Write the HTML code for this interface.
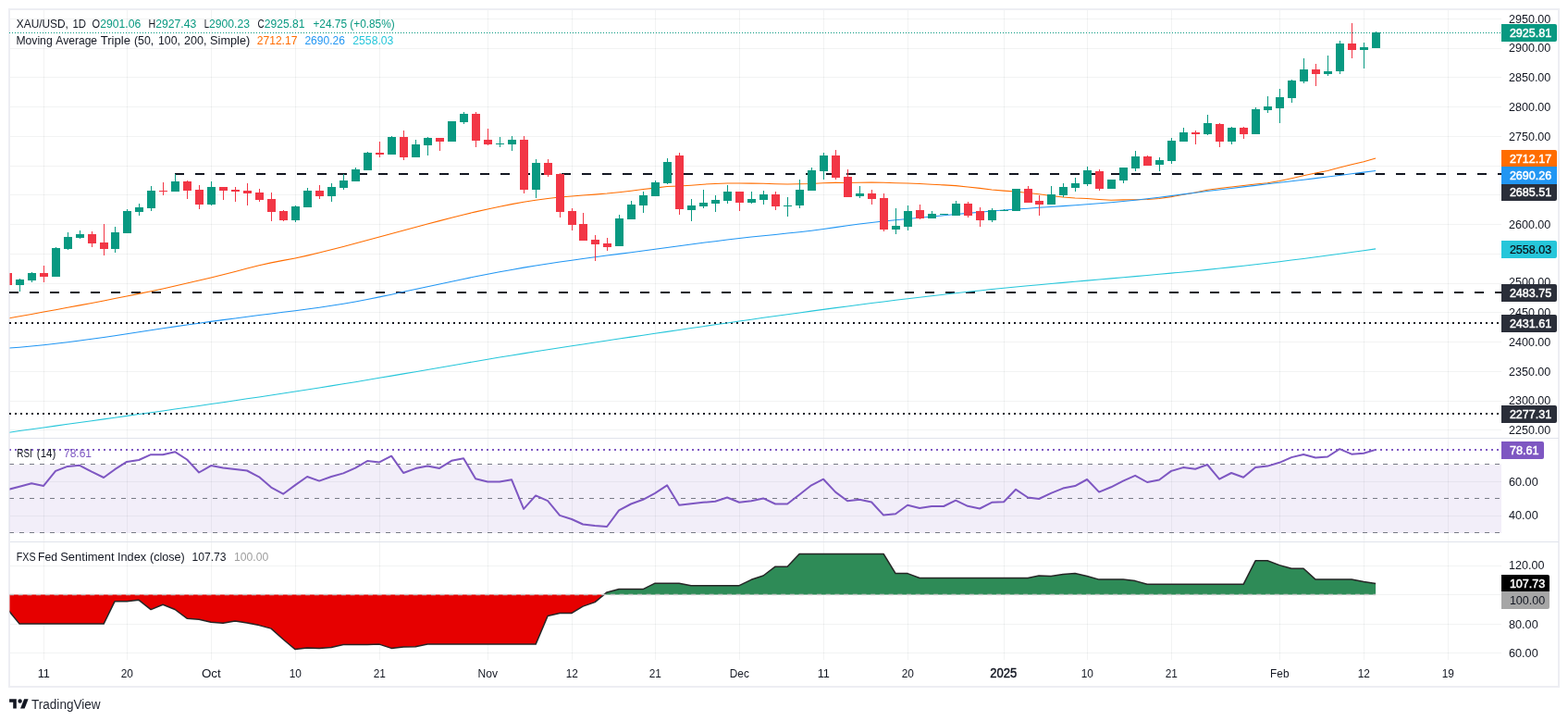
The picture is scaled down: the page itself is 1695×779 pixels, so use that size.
<!DOCTYPE html>
<html lang="en"><head><meta charset="utf-8"><title>XAU/USD 1D chart</title>
<style>html,body{margin:0;padding:0;background:#fff}body{width:1695px;height:779px;overflow:hidden}svg{display:block}text{font-family:'Liberation Sans', sans-serif;white-space:pre}</style>
</head><body>
<svg width="1695" height="779" viewBox="0 0 1695 779" role="img" aria-label="XAU/USD daily candlestick chart with moving averages, RSI and Fed Sentiment Index">
<rect width="1695" height="779" fill="#ffffff"/>
<rect x="10" y="10" width="1675" height="732" fill="none" stroke="#edeef3" stroke-width="2"/>
<g id="grid"><path d="M47.5 11V713M137.5 11V713M228.5 11V713M319.5 11V713M410.5 11V713M527.5 11V713M618.5 11V713M708.5 11V713M799.5 11V713M890.5 11V713M981.5 11V713M1085.5 11V713M1175.5 11V713M1266.5 11V713M1383.5 11V713M1474.5 11V713M1565.5 11V713" fill="none" stroke="#2a2e39" stroke-opacity="0.06" stroke-width="1" shape-rendering="crispEdges"/><path d="M11 20.5H1623M11 52.5H1623M11 83.5H1623M11 115.5H1623M11 147.5H1623M11 179.5H1623M11 210.5H1623M11 242.5H1623M11 274.5H1623M11 306.5H1623M11 337.5H1623M11 369.5H1623M11 401.5H1623M11 433.5H1623M11 464.5H1623M11 520.5H1623M11 557.5H1623M11 611.5H1623M11 642.5H1623M11 674.5H1623M11 705.5H1623" fill="none" stroke="#2a2e39" stroke-opacity="0.06" stroke-width="1" shape-rendering="crispEdges"/></g>
<clipPath id="cp"><rect x="10.5" y="10" width="1612.5" height="703"/></clipPath>
<rect x="10.5" y="502" width="1612.5" height="74" fill="#7e57c2" fill-opacity="0.1"/>
<path d="M10.5 473.5H1685M10.5 585.5H1685" stroke="#e0e3eb" stroke-width="1" fill="none" shape-rendering="crispEdges"/>
<g id="levels">
<line x1="189" y1="188" x2="1623" y2="188" stroke="#131722" stroke-width="2" stroke-dasharray="10 12" stroke-dashoffset="0"/>
<line x1="10" y1="316" x2="1623" y2="316" stroke="#131722" stroke-width="2" stroke-dasharray="10 12" stroke-dashoffset="0"/>
<line x1="10" y1="349" x2="1623" y2="349" stroke="#131722" stroke-width="2" stroke-dasharray="2 4" stroke-dashoffset="0"/>
<line x1="10" y1="447" x2="1623" y2="447" stroke="#131722" stroke-width="2" stroke-dasharray="2 4" stroke-dashoffset="0"/>
</g>
<g id="ma" fill="none" stroke-width="1.05" stroke-linejoin="round" clip-path="url(#cp)">
<path d="M8.1 467.43L21.1 465.59L34.1 463.76L47.1 461.93L60.1 460.11L73.1 458.3L86.1 456.48L99.1 454.68L112.1 452.87L124.1 451.2L137.1 449.39L150.1 447.58L163.1 445.76L176.1 443.93L189.1 442.1L202.1 440.26L215.1 438.4L228.1 436.54L241.1 434.66L254.1 432.77L267.1 430.85L280.1 428.93L293.1 426.98L306.1 425.01L319.1 423.01L332.1 421L345.1 418.96L358.1 416.89L371.1 414.79L384.1 412.66L397.1 410.5L410.1 408.32L423.1 406.11L436.1 403.89L449.1 401.65L462.1 399.4L475.1 397.15L488.1 394.9L501.1 392.66L514.1 390.44L527.1 388.25L540.1 386.09L553.1 383.96L566.1 381.86L579.1 379.79L592.1 377.75L605.1 375.73L618.1 373.73L630.1 371.9L643.1 369.93L656.1 367.98L669.1 366.04L682.1 364.12L695.1 362.19L708.1 360.28L721.1 358.37L734.1 356.46L747.1 354.56L760.1 352.66L773.1 350.77L786.1 348.9L799.1 347.03L812.1 345.17L825.1 343.33L838.1 341.5L851.1 339.69L864.1 337.9L877.1 336.12L890.1 334.37L903.1 332.63L916.1 330.92L929.1 329.23L942.1 327.57L955.1 325.93L968.1 324.32L981.1 322.74L994.1 321.19L1007.1 319.67L1020.1 318.19L1033.1 316.74L1046.1 315.32L1059.1 313.94L1072.1 312.6L1085.1 311.3L1098.1 310.03L1111.1 308.81L1123.1 307.7L1136.1 306.53L1149.1 305.38L1162.1 304.25L1175.1 303.12L1188.1 302L1201.1 300.89L1214.1 299.77L1227.1 298.63L1240.1 297.49L1253.1 296.32L1266.1 295.13L1279.1 293.91L1292.1 292.66L1305.1 291.36L1318.1 290.03L1331.1 288.64L1344.1 287.22L1357.1 285.75L1370.1 284.24L1383.1 282.68L1396.1 281.09L1409.1 279.46L1422.1 277.78L1435.1 276.08L1448.1 274.33L1461.1 272.55L1474.1 270.73L1487.1 268.87" stroke="#26c6da"/>
<path d="M8.1 344.17L21.1 341.81L34.1 339.46L47.1 337.09L60.1 334.71L73.1 332.32L86.1 329.89L99.1 327.44L112.1 324.94L124.1 322.6L137.1 320.01L150.1 317.37L163.1 314.66L176.1 311.89L189.1 309.04L202.1 306.11L215.1 303.09L228.1 299.97L241.1 296.76L254.1 293.44L267.1 290.02L280.1 286.71L293.1 283.87L306.1 281.38L319.1 278.9L332.1 276.13L345.1 273.09L358.1 269.83L371.1 266.44L384.1 262.99L397.1 259.51L410.1 256.02L423.1 252.52L436.1 249.02L449.1 245.52L462.1 242.05L475.1 238.62L488.1 235.25L501.1 231.98L514.1 228.88L527.1 225.94L540.1 223.17L553.1 220.61L566.1 218.29L579.1 216.23L592.1 214.47L605.1 213.03L618.1 211.9L630.1 211.02L643.1 210.12L656.1 209.1L669.1 207.78L682.1 206.3L695.1 204.56L708.1 203.14L721.1 201.52L734.1 200.96L747.1 200.16L760.1 199.18L773.1 198.48L786.1 198.06L799.1 197.94L812.1 198.12L825.1 198.2L838.1 198.72L851.1 199.06L864.1 198.76L877.1 198.4L890.1 197.66L903.1 197.36L916.1 197.44L929.1 197.32L942.1 197.04L955.1 197.24L968.1 197.66L981.1 198.1L994.1 198.58L1007.1 199.16L1020.1 199.88L1033.1 200.62L1046.1 201.96L1059.1 203.38L1072.1 204.96L1085.1 206.12L1098.1 207.08L1111.1 208.46L1123.1 209.82L1136.1 211.4L1149.1 212.98L1162.1 213.92L1175.1 214.5L1188.1 215.46L1201.1 216.32L1214.1 215.86L1227.1 215.72L1240.1 215.52L1253.1 214.42L1266.1 212.62L1279.1 210.3L1292.1 207.92L1305.1 205.26L1318.1 203.58L1331.1 201.92L1344.1 200.58L1357.1 199L1370.1 197.8L1383.1 195.4L1396.1 192.7L1409.1 189.82L1422.1 187.08L1435.1 184.48L1448.1 181.06L1461.1 177.82L1474.1 174.64L1487.1 170.9" stroke="#ff6d00"/>
<path d="M8.1 376.16L21.1 375.2L34.1 374.06L47.1 372.76L60.1 371.31L73.1 369.74L86.1 368.05L99.1 366.28L112.1 364.43L124.1 362.67L137.1 360.72L150.1 358.75L163.1 356.78L176.1 354.82L189.1 352.89L202.1 351.01L215.1 349.17L228.1 347.37L241.1 345.62L254.1 343.9L267.1 342.22L280.1 340.57L293.1 338.95L306.1 337.34L319.1 335.7L332.1 334L345.1 332.2L358.1 330.29L371.1 328.21L384.1 325.95L397.1 323.49L410.1 320.87L423.1 318.14L436.1 315.34L449.1 312.51L462.1 309.69L475.1 306.9L488.1 304.15L501.1 301.45L514.1 298.82L527.1 296.26L540.1 293.78L553.1 291.41L566.1 289.14L579.1 287L592.1 284.96L605.1 283.02L618.1 281.16L630.1 279.51L643.1 277.76L656.1 276.06L669.1 274.37L682.1 272.7L695.1 271.01L708.1 269.3L721.1 267.56L734.1 265.81L747.1 264.05L760.1 262.33L773.1 260.65L786.1 259.03L799.1 257.51L812.1 256.1L825.1 254.75L838.1 253.42L851.1 252.08L864.1 250.67L877.1 249.15L890.1 247.48L903.1 245.63L916.1 243.74L929.1 241.97L942.1 240.41L955.1 239.02L968.1 237.74L981.1 236.53L994.1 235.33L1007.1 234.1L1020.1 232.84L1033.1 231.59L1046.1 230.36L1059.1 229.17L1072.1 228.05L1085.1 227.02L1098.1 226.06L1111.1 225.15L1123.1 224.35L1136.1 223.49L1149.1 222.63L1162.1 221.74L1175.1 220.81L1188.1 219.82L1201.1 218.74L1214.1 217.57L1227.1 216.27L1240.1 214.84L1253.1 213.28L1266.1 211.61L1279.1 209.87L1292.1 208.18L1305.1 206.55L1318.1 204.97L1331.1 203.42L1344.1 201.89L1357.1 200.36L1370.1 198.83L1383.1 197.3L1396.1 195.76L1409.1 194.2L1422.1 192.63L1435.1 191.04L1448.1 189.43L1461.1 187.79L1474.1 186.13L1487.1 184.42" stroke="#2196f3"/>
</g>
<line x1="10" y1="35.5" x2="1623" y2="35.5" stroke="#089981" stroke-width="1" stroke-dasharray="1 2" stroke-dashoffset="0"/>
<g id="candles" clip-path="url(#cp)"><path d="M21.5 301V315M34.5 294V305M60.5 267V299M73.5 251V270M86.5 249V258M124.5 245V273M137.5 226V252M150.5 220V233M163.5 201V228M189.5 188V207M228.5 196V222M319.5 222V240M332.5 203V224M358.5 198V218M371.5 188V205M384.5 181V196M397.5 164V184M423.5 147V167M449.5 151V170M462.5 148V168M488.5 131V153M501.5 121V134M540.5 148V159M553.5 147V163M579.5 172V214M669.5 232V266M682.5 217V237M695.5 207V230M708.5 195V212M721.5 171V199M747.5 215V239M760.5 205V225M773.5 211V229M786.5 200V220M812.5 207V220M825.5 206V221M851.5 213V234M864.5 194V225M877.5 181V206M890.5 165V194M929.5 201V214M968.5 225V253M981.5 222V249M1007.5 228V236M1020.5 231V232M1033.5 217V233M1072.5 225V240M1085.5 226V228M1098.5 204V228M1136.5 201V221M1149.5 198V213M1162.5 192V207M1175.5 180V201M1201.5 194V204M1214.5 181V198M1227.5 163V185M1253.5 170V185M1266.5 149V177M1279.5 138V153M1305.5 124V146M1331.5 137V156M1357.5 116V145M1370.5 104V122M1383.5 96V133M1396.5 86V111M1409.5 63V90M1435.5 60V82M1448.5 44V80M1474.5 46V74M1487.5 34V52" stroke="#089981" stroke-width="1" fill="none" shape-rendering="crispEdges"/>
<path d="M17 302h9V308h-9zM30 295h9V303h-9zM56 268h9V299h-9zM69 256h9V269h-9zM82 253h9V257h-9zM120 251h9V269h-9zM133 228h9V252h-9zM146 224h9V229h-9zM159 206h9V225h-9zM185 196h9V207h-9zM224 202h9V221h-9zM315 223h9V238h-9zM328 206h9V224h-9zM354 202h9V212h-9zM367 195h9V203h-9zM380 183h9V196h-9zM393 165h9V184h-9zM419 148h9V167h-9zM445 156h9V170h-9zM458 149h9V157h-9zM484 131h9V153h-9zM497 123h9V132h-9zM536 155h9V156h-9zM549 151h9V156h-9zM575 176h9V205h-9zM665 236h9V266h-9zM678 221h9V237h-9zM691 211h9V222h-9zM704 197h9V212h-9zM717 175h9V198h-9zM743 222h9V227h-9zM756 219h9V223h-9zM769 216h9V220h-9zM782 207h9V217h-9zM808 215h9V219h-9zM821 210h9V216h-9zM847 222h9V223h-9zM860 205h9V222h-9zM873 184h9V206h-9zM886 168h9V185h-9zM925 209h9V212h-9zM964 244h9V248h-9zM977 228h9V245h-9zM1003 231h9V236h-9zM1016 231h9V232h-9zM1029 220h9V233h-9zM1068 227h9V238h-9zM1081 227h9V228h-9zM1094 204h9V228h-9zM1132 210h9V221h-9zM1145 202h9V211h-9zM1158 198h9V203h-9zM1171 184h9V199h-9zM1197 194h9V204h-9zM1210 181h9V195h-9zM1223 169h9V182h-9zM1249 173h9V178h-9zM1262 152h9V174h-9zM1275 143h9V153h-9zM1301 133h9V145h-9zM1327 138h9V153h-9zM1353 118h9V145h-9zM1366 115h9V119h-9zM1379 105h9V117h-9zM1392 87h9V106h-9zM1405 75h9V88h-9zM1431 77h9V80h-9zM1444 47h9V77h-9zM1470 51h9V54h-9zM1483 35h9V52h-9z" fill="#089981" shape-rendering="crispEdges"/>
<path d="M8.5 295V308M47.5 287V305M99.5 250V267M112.5 242V276M176.5 197V211M202.5 195V215M215.5 200V226M241.5 202V216M254.5 202V218M267.5 198V222M280.5 204V218M293.5 208V239M306.5 227V239M345.5 200V215M410.5 153V170M436.5 141V173M475.5 149V163M514.5 121V159M527.5 139V157M566.5 147V209M592.5 172V191M605.5 187V235M618.5 225V249M630.5 230V260M643.5 254V282M656.5 257V271M734.5 165V232M799.5 207V228M838.5 207V227M903.5 162V194M916.5 183V213M942.5 205V221M955.5 209V250M994.5 221V237M1046.5 218V235M1059.5 224V245M1111.5 201V219M1123.5 211V233M1188.5 183V206M1240.5 168V179M1292.5 141V156M1318.5 133V159M1344.5 137V150M1422.5 69V93M1461.5 25V63" stroke="#f23645" stroke-width="1" fill="none" shape-rendering="crispEdges"/>
<path d="M4 295h9V308h-9zM43 295h9V299h-9zM95 253h9V263h-9zM108 262h9V269h-9zM172 206h9V207h-9zM198 196h9V206h-9zM211 205h9V221h-9zM237 202h9V206h-9zM250 205h9V207h-9zM263 206h9V209h-9zM276 208h9V216h-9zM289 215h9V229h-9zM302 228h9V238h-9zM341 206h9V212h-9zM406 165h9V167h-9zM432 148h9V170h-9zM471 149h9V153h-9zM510 123h9V152h-9zM523 151h9V156h-9zM562 151h9V205h-9zM588 176h9V189h-9zM601 188h9V229h-9zM614 228h9V243h-9zM626 242h9V260h-9zM639 259h9V264h-9zM652 263h9V267h-9zM730 168h9V226h-9zM795 207h9V219h-9zM834 210h9V223h-9zM899 168h9V192h-9zM912 191h9V213h-9zM938 209h9V215h-9zM951 214h9V248h-9zM990 227h9V236h-9zM1042 220h9V233h-9zM1055 228h9V238h-9zM1107 204h9V219h-9zM1119 217h9V221h-9zM1184 185h9V204h-9zM1236 169h9V179h-9zM1288 143h9V145h-9zM1314 134h9V153h-9zM1340 138h9V145h-9zM1418 75h9V80h-9zM1457 47h9V54h-9z" fill="#f23645" shape-rendering="crispEdges"/></g>
<g id="rsi" clip-path="url(#cp)">
<line x1="10" y1="501.5" x2="1623" y2="501.5" stroke="#787b86" stroke-width="1" stroke-dasharray="5 6" stroke-dashoffset="0"/>
<line x1="10" y1="538.5" x2="1623" y2="538.5" stroke="#787b86" stroke-width="1" stroke-dasharray="5 6" stroke-dashoffset="0"/>
<line x1="10" y1="575.5" x2="1623" y2="575.5" stroke="#787b86" stroke-width="1" stroke-dasharray="5 6" stroke-dashoffset="0"/>
<line x1="10" y1="486" x2="1623" y2="486" stroke="#7e57c2" stroke-width="2" stroke-dasharray="2 4" stroke-dashoffset="0"/>
<path d="M8.1 529.1L21.1 525.7L34.1 522.3L47.1 524.9L60.1 508.9L73.1 503.9L86.1 502.8L99.1 509.7L112.1 516L124.1 507.2L137.1 498.9L150.1 497L163.1 491.2L176.1 491.2L189.1 488.2L202.1 496.5L215.1 510.5L228.1 503.1L241.1 505.6L254.1 506.9L267.1 508.5L280.1 515.3L293.1 526.6L306.1 533.7L319.1 524.1L332.1 515L345.1 519.6L358.1 515L371.1 511.4L384.1 505.6L397.1 498.1L410.1 499.4L423.1 492.7L436.1 511L449.1 506.1L462.1 503.6L475.1 505.9L488.1 497.8L501.1 495.3L514.1 517.2L527.1 520.5L540.1 520.5L553.1 518.3L566.1 549.9L579.1 535.4L592.1 541.2L605.1 556.9L618.1 561L630.1 566.5L643.1 568L656.1 569L669.1 551.4L682.1 544.5L695.1 539.8L708.1 532.9L721.1 524.3L734.1 545.8L747.1 544.2L760.1 542.8L773.1 541.8L786.1 537.5L799.1 542.7L812.1 541.2L825.1 538.4L838.1 544.5L851.1 544.5L864.1 534.5L877.1 524.3L890.1 517.7L903.1 531.6L916.1 541.2L929.1 539.8L942.1 542.5L955.1 556.6L968.1 555.2L981.1 545.8L994.1 549L1007.1 547L1020.1 547L1033.1 540.7L1046.1 546.8L1059.1 549.5L1072.1 542.8L1085.1 542.3L1098.1 528.8L1111.1 537.5L1123.1 539L1136.1 532.9L1149.1 527.6L1162.1 525.1L1175.1 518L1188.1 531.6L1201.1 526.3L1214.1 519.6L1227.1 513.8L1240.1 521L1253.1 518.5L1266.1 508.9L1279.1 505.1L1292.1 506.7L1305.1 502L1318.1 517.7L1331.1 511L1344.1 515.7L1357.1 504.9L1370.1 503.6L1383.1 499.8L1396.1 494.1L1409.1 491L1422.1 494.5L1435.1 493.5L1448.1 485.2L1461.1 490.7L1474.1 489.8L1487.1 485.9" fill="none" stroke="#7e57c2" stroke-width="2" stroke-linejoin="round"/>
</g>
<g id="fed" clip-path="url(#cp)">
<path d="M8.1 642.4L8.1 642.4L21.1 642.4L34.1 642.4L47.1 642.4L60.1 642.4L73.1 642.4L86.1 642.4L99.1 642.4L112.1 642.4L124.1 642.4L137.1 642.4L150.1 642.4L163.1 642.4L176.1 642.4L189.1 642.4L202.1 642.4L215.1 642.4L228.1 642.4L241.1 642.4L254.1 642.4L267.1 642.4L280.1 642.4L293.1 642.4L306.1 642.4L319.1 642.4L332.1 642.4L345.1 642.4L358.1 642.4L371.1 642.4L384.1 642.4L397.1 642.4L410.1 642.4L423.1 642.4L436.1 642.4L449.1 642.4L462.1 642.4L475.1 642.4L488.1 642.4L501.1 642.4L514.1 642.4L527.1 642.4L540.1 642.4L553.1 642.4L566.1 642.4L579.1 642.4L592.1 642.4L605.1 642.4L618.1 642.4L630.1 642.4L643.1 642.4L653.06 642.4L656.1 639.9L669.1 636.6L682.1 636.6L695.1 636.6L708.1 630.2L721.1 630.2L734.1 630.2L747.1 632.7L760.1 632.7L773.1 632.7L786.1 632.7L799.1 632.7L812.1 626.3L825.1 622L838.1 612.2L851.1 612.2L864.1 598.5L877.1 598.5L890.1 598.5L903.1 598.5L916.1 598.5L929.1 598.5L942.1 598.5L955.1 598.5L968.1 619.6L981.1 619.6L994.1 624.5L1007.1 624.5L1020.1 624.5L1033.1 624.5L1046.1 624.5L1059.1 624.5L1072.1 624.5L1085.1 624.5L1098.1 624.5L1111.1 624.5L1123.1 622L1136.1 622.5L1149.1 620.4L1162.1 619.4L1175.1 622.5L1188.1 626.1L1201.1 626.1L1214.1 626.1L1227.1 627.6L1240.1 631.3L1253.1 631.3L1266.1 631.3L1279.1 631.3L1292.1 631.3L1305.1 631.3L1318.1 631.3L1331.1 631.3L1344.1 631.3L1357.1 605.8L1370.1 605.8L1383.1 610.6L1396.1 614.2L1409.1 614.2L1422.1 626.1L1435.1 626.1L1448.1 626L1461.1 626L1474.1 628.4L1487.1 630.4L1487.1 642.4z" fill="#2e8b57"/>
<path d="M8.1 642.4L8.1 658.2L21.1 674.1L34.1 674.1L47.1 674.1L60.1 674.1L73.1 674.1L86.1 674.1L99.1 674.1L112.1 674.1L124.1 649.7L137.1 649.7L150.1 648.3L163.1 658.6L176.1 653.2L189.1 658.5L202.1 668.2L215.1 669.2L228.1 672.3L241.1 673.3L254.1 671.1L267.1 673.1L280.1 675.6L293.1 679.1L306.1 690.7L319.1 701.6L332.1 700L345.1 700.6L358.1 699.4L371.1 696.5L384.1 696.5L397.1 696.5L410.1 696.1L423.1 700.4L436.1 699L449.1 698.7L462.1 696.1L475.1 696.1L488.1 696.1L501.1 696.1L514.1 696.1L527.1 696.1L540.1 696.1L553.1 696.1L566.1 696.1L579.1 696.1L592.1 665.5L605.1 662.4L618.1 662.4L630.1 655.1L643.1 650.6L653.06 642.4L656.1 642.4L669.1 642.4L682.1 642.4L695.1 642.4L708.1 642.4L721.1 642.4L734.1 642.4L747.1 642.4L760.1 642.4L773.1 642.4L786.1 642.4L799.1 642.4L812.1 642.4L825.1 642.4L838.1 642.4L851.1 642.4L864.1 642.4L877.1 642.4L890.1 642.4L903.1 642.4L916.1 642.4L929.1 642.4L942.1 642.4L955.1 642.4L968.1 642.4L981.1 642.4L994.1 642.4L1007.1 642.4L1020.1 642.4L1033.1 642.4L1046.1 642.4L1059.1 642.4L1072.1 642.4L1085.1 642.4L1098.1 642.4L1111.1 642.4L1123.1 642.4L1136.1 642.4L1149.1 642.4L1162.1 642.4L1175.1 642.4L1188.1 642.4L1201.1 642.4L1214.1 642.4L1227.1 642.4L1240.1 642.4L1253.1 642.4L1266.1 642.4L1279.1 642.4L1292.1 642.4L1305.1 642.4L1318.1 642.4L1331.1 642.4L1344.1 642.4L1357.1 642.4L1370.1 642.4L1383.1 642.4L1396.1 642.4L1409.1 642.4L1422.1 642.4L1435.1 642.4L1448.1 642.4L1461.1 642.4L1474.1 642.4L1487.1 642.4L1487.1 642.4z" fill="#e60000"/>
<path d="M8.1 658.2L21.1 674.1L34.1 674.1L47.1 674.1L60.1 674.1L73.1 674.1L86.1 674.1L99.1 674.1L112.1 674.1L124.1 649.7L137.1 649.7L150.1 648.3L163.1 658.6L176.1 653.2L189.1 658.5L202.1 668.2L215.1 669.2L228.1 672.3L241.1 673.3L254.1 671.1L267.1 673.1L280.1 675.6L293.1 679.1L306.1 690.7L319.1 701.6L332.1 700L345.1 700.6L358.1 699.4L371.1 696.5L384.1 696.5L397.1 696.5L410.1 696.1L423.1 700.4L436.1 699L449.1 698.7L462.1 696.1L475.1 696.1L488.1 696.1L501.1 696.1L514.1 696.1L527.1 696.1L540.1 696.1L553.1 696.1L566.1 696.1L579.1 696.1L592.1 665.5L605.1 662.4L618.1 662.4L630.1 655.1L643.1 650.6L656.1 639.9L669.1 636.6L682.1 636.6L695.1 636.6L708.1 630.2L721.1 630.2L734.1 630.2L747.1 632.7L760.1 632.7L773.1 632.7L786.1 632.7L799.1 632.7L812.1 626.3L825.1 622L838.1 612.2L851.1 612.2L864.1 598.5L877.1 598.5L890.1 598.5L903.1 598.5L916.1 598.5L929.1 598.5L942.1 598.5L955.1 598.5L968.1 619.6L981.1 619.6L994.1 624.5L1007.1 624.5L1020.1 624.5L1033.1 624.5L1046.1 624.5L1059.1 624.5L1072.1 624.5L1085.1 624.5L1098.1 624.5L1111.1 624.5L1123.1 622L1136.1 622.5L1149.1 620.4L1162.1 619.4L1175.1 622.5L1188.1 626.1L1201.1 626.1L1214.1 626.1L1227.1 627.6L1240.1 631.3L1253.1 631.3L1266.1 631.3L1279.1 631.3L1292.1 631.3L1305.1 631.3L1318.1 631.3L1331.1 631.3L1344.1 631.3L1357.1 605.8L1370.1 605.8L1383.1 610.6L1396.1 614.2L1409.1 614.2L1422.1 626.1L1435.1 626.1L1448.1 626L1461.1 626L1474.1 628.4L1487.1 630.4" fill="none" stroke="#262626" stroke-width="1.5" stroke-linejoin="round"/>
<line x1="10" y1="642.5" x2="1487" y2="642.5" stroke="#c4c4c4" stroke-width="1.3" stroke-dasharray="5 4.7" stroke-dashoffset="0"/>
</g>
<g id="axis">
<text x="1631" y="24.89" font-size="12.5" fill="#131722" textLength="45.3" lengthAdjust="spacingAndGlyphs">2950.00</text>
<text x="1631" y="55.74" font-size="12.5" fill="#131722" textLength="45.3" lengthAdjust="spacingAndGlyphs">2900.00</text>
<text x="1631" y="88.44" font-size="12.5" fill="#131722" textLength="45.3" lengthAdjust="spacingAndGlyphs">2850.00</text>
<text x="1631" y="119.93" font-size="12.5" fill="#131722" textLength="45.3" lengthAdjust="spacingAndGlyphs">2800.00</text>
<text x="1631" y="152.18" font-size="12.5" fill="#131722" textLength="45.3" lengthAdjust="spacingAndGlyphs">2750.00</text>
<text x="1631" y="247.23" font-size="12.5" fill="#131722" textLength="45.3" lengthAdjust="spacingAndGlyphs">2600.00</text>
<text x="1631" y="309.42" font-size="12.5" fill="#131722" textLength="45.3" lengthAdjust="spacingAndGlyphs">2500.00</text>
<text x="1631" y="342.47" font-size="12.5" fill="#131722" textLength="45.3" lengthAdjust="spacingAndGlyphs">2450.00</text>
<text x="1631" y="374.22" font-size="12.5" fill="#131722" textLength="45.3" lengthAdjust="spacingAndGlyphs">2400.00</text>
<text x="1631" y="405.77" font-size="12.5" fill="#131722" textLength="45.3" lengthAdjust="spacingAndGlyphs">2350.00</text>
<text x="1631" y="436.71" font-size="12.5" fill="#131722" textLength="45.3" lengthAdjust="spacingAndGlyphs">2300.00</text>
<text x="1631" y="469.26" font-size="12.5" fill="#131722" textLength="45.3" lengthAdjust="spacingAndGlyphs">2250.00</text>
<text x="1631" y="525.1" font-size="12.5" fill="#131722" textLength="31.7" lengthAdjust="spacingAndGlyphs">60.00</text>
<text x="1631" y="561.2" font-size="12.5" fill="#131722" textLength="31.7" lengthAdjust="spacingAndGlyphs">40.00</text>
<text x="1631" y="615.1" font-size="12.5" fill="#131722" textLength="38.4" lengthAdjust="spacingAndGlyphs">120.00</text>
<text x="1631" y="679.1" font-size="12.5" fill="#131722" textLength="31.7" lengthAdjust="spacingAndGlyphs">80.00</text>
<text x="1631" y="710.2" font-size="12.5" fill="#131722" textLength="31.7" lengthAdjust="spacingAndGlyphs">60.00</text>
<path d="M1623 26H1681Q1683 26 1683 28V43Q1683 45 1681 45H1623z" fill="#089981"/><text x="1631.9" y="39.7" font-size="12.5" fill="#ffffff" stroke="#ffffff" stroke-width="0.45" textLength="45.3" lengthAdjust="spacingAndGlyphs">2925.81</text>
<path d="M1623 162H1681Q1683 162 1683 164V180H1623z" fill="#ff6d00"/><text x="1631.9" y="175.9" font-size="12.5" fill="#ffffff" stroke="#ffffff" stroke-width="0.45" textLength="45.3" lengthAdjust="spacingAndGlyphs">2712.17</text>
<path d="M1623 180H1683V199H1623z" fill="#2196f3"/><text x="1631.9" y="193.7" font-size="12.5" fill="#ffffff" stroke="#ffffff" stroke-width="0.45" textLength="45.3" lengthAdjust="spacingAndGlyphs">2690.26</text>
<path d="M1623 199H1683V215Q1683 217 1681 217H1623z" fill="#2a2e39"/><text x="1631.9" y="212.2" font-size="12.5" fill="#ffffff" stroke="#ffffff" stroke-width="0.45" textLength="45.3" lengthAdjust="spacingAndGlyphs">2685.51</text>
<path d="M1623 260H1681Q1683 260 1683 262V277Q1683 279 1681 279H1623z" fill="#26c6da"/><text x="1631.9" y="273.7" font-size="12.5" fill="#0b0d14" stroke="#0b0d14" stroke-width="0.2" textLength="45.3" lengthAdjust="spacingAndGlyphs">2558.03</text>
<path d="M1623 307H1681Q1683 307 1683 309V324Q1683 326 1681 326H1623z" fill="#2a2e39"/><text x="1631.9" y="320.7" font-size="12.5" fill="#ffffff" stroke="#ffffff" stroke-width="0.45" textLength="45.3" lengthAdjust="spacingAndGlyphs">2483.75</text>
<path d="M1623 340H1681Q1683 340 1683 342V357Q1683 359 1681 359H1623z" fill="#2a2e39"/><text x="1631.9" y="353.7" font-size="12.5" fill="#ffffff" stroke="#ffffff" stroke-width="0.45" textLength="45.3" lengthAdjust="spacingAndGlyphs">2431.61</text>
<path d="M1623 438H1681Q1683 438 1683 440V455Q1683 457 1681 457H1623z" fill="#2a2e39"/><text x="1631.9" y="451.7" font-size="12.5" fill="#ffffff" stroke="#ffffff" stroke-width="0.45" textLength="45.3" lengthAdjust="spacingAndGlyphs">2277.31</text>
<path d="M1623 477H1667Q1669 477 1669 479V494Q1669 496 1667 496H1623z" fill="#7e57c2"/><text x="1631.9" y="490.7" font-size="12.5" fill="#ffffff" stroke="#ffffff" stroke-width="0.45" textLength="31.7" lengthAdjust="spacingAndGlyphs">78.61</text>
<path d="M1623 621H1673Q1675 621 1675 623V639H1623z" fill="#000000"/><text x="1631.9" y="635" font-size="12.5" fill="#ffffff" stroke="#ffffff" stroke-width="0.45" textLength="38.4" lengthAdjust="spacingAndGlyphs">107.73</text>
<path d="M1623 639H1675V656Q1675 658 1673 658H1623z" fill="#a6a6a6"/><text x="1631.9" y="652.7" font-size="12.5" fill="#131722" textLength="38.4" lengthAdjust="spacingAndGlyphs">100.00</text>
</g>
<g id="time">
<text x="40.7" y="732.3" font-size="12.5" fill="#131722" textLength="13.2" lengthAdjust="spacingAndGlyphs">11</text>
<text x="130.7" y="732.3" font-size="12.5" fill="#131722" textLength="13.2" lengthAdjust="spacingAndGlyphs">20</text>
<text x="217.9" y="732.3" font-size="12.5" fill="#131722" textLength="20.8" lengthAdjust="spacingAndGlyphs">Oct</text>
<text x="312.7" y="732.3" font-size="12.5" fill="#131722" textLength="13.2" lengthAdjust="spacingAndGlyphs">10</text>
<text x="403.7" y="732.3" font-size="12.5" fill="#131722" textLength="13.2" lengthAdjust="spacingAndGlyphs">21</text>
<text x="516.6" y="732.3" font-size="12.5" fill="#131722" textLength="21.4" lengthAdjust="spacingAndGlyphs">Nov</text>
<text x="611.7" y="732.3" font-size="12.5" fill="#131722" textLength="13.2" lengthAdjust="spacingAndGlyphs">12</text>
<text x="701.7" y="732.3" font-size="12.5" fill="#131722" textLength="13.2" lengthAdjust="spacingAndGlyphs">21</text>
<text x="788.8" y="732.3" font-size="12.5" fill="#131722" textLength="21" lengthAdjust="spacingAndGlyphs">Dec</text>
<text x="883.7" y="732.3" font-size="12.5" fill="#131722" textLength="13.2" lengthAdjust="spacingAndGlyphs">11</text>
<text x="974.7" y="732.3" font-size="12.5" fill="#131722" textLength="13.2" lengthAdjust="spacingAndGlyphs">20</text>
<text x="1084.7" y="732.3" font-size="14.5" fill="#131722" stroke="#131722" stroke-width="0.45" text-anchor="middle" textLength="29" lengthAdjust="spacingAndGlyphs">2025</text>
<text x="1168.7" y="732.3" font-size="12.5" fill="#131722" textLength="13.2" lengthAdjust="spacingAndGlyphs">10</text>
<text x="1259.7" y="732.3" font-size="12.5" fill="#131722" textLength="13.2" lengthAdjust="spacingAndGlyphs">21</text>
<text x="1373.1" y="732.3" font-size="12.5" fill="#131722" textLength="20.4" lengthAdjust="spacingAndGlyphs">Feb</text>
<text x="1467.7" y="732.3" font-size="12.5" fill="#131722" textLength="13.2" lengthAdjust="spacingAndGlyphs">12</text>
<text x="1558.7" y="732.3" font-size="12.5" fill="#131722" textLength="13.2" lengthAdjust="spacingAndGlyphs">19</text>
</g>
<g id="legend">
<text y="30.3" font-size="13"><tspan x="17.8" textLength="56.1" lengthAdjust="spacingAndGlyphs" fill="#131722">XAU/USD,</tspan> <tspan x="78.4" textLength="14.6" lengthAdjust="spacingAndGlyphs" fill="#131722">1D</tspan> <tspan x="99.6" textLength="8.6" lengthAdjust="spacingAndGlyphs" fill="#131722">O</tspan><tspan x="108.2" textLength="44" lengthAdjust="spacingAndGlyphs" fill="#089981">2901.06</tspan> <tspan x="160.5" textLength="7.7" lengthAdjust="spacingAndGlyphs" fill="#131722">H</tspan><tspan x="168.2" textLength="44" lengthAdjust="spacingAndGlyphs" fill="#089981">2927.43</tspan> <tspan x="220.8" textLength="5.3" lengthAdjust="spacingAndGlyphs" fill="#131722">L</tspan><tspan x="226" textLength="44" lengthAdjust="spacingAndGlyphs" fill="#089981">2900.23</tspan> <tspan x="278.6" textLength="7.2" lengthAdjust="spacingAndGlyphs" fill="#131722">C</tspan><tspan x="285.8" textLength="43.6" lengthAdjust="spacingAndGlyphs" fill="#089981">2925.81</tspan> <tspan x="338.4" textLength="88.3" lengthAdjust="spacingAndGlyphs" fill="#089981">+24.75 (+0.85%)</tspan></text>
<text y="48.2" font-size="13"><tspan x="17.4" textLength="39.3" lengthAdjust="spacingAndGlyphs" fill="#131722">Moving</tspan> <tspan x="60.3" textLength="44.8" lengthAdjust="spacingAndGlyphs" fill="#131722">Average</tspan> <tspan x="108.7" textLength="32.3" lengthAdjust="spacingAndGlyphs" fill="#131722">Triple</tspan> <tspan x="145" textLength="21.3" lengthAdjust="spacingAndGlyphs" fill="#131722">(50,</tspan> <tspan x="171" textLength="23.9" lengthAdjust="spacingAndGlyphs" fill="#131722">100,</tspan> <tspan x="198.9" textLength="24.5" lengthAdjust="spacingAndGlyphs" fill="#131722">200,</tspan> <tspan x="227.1" textLength="43.1" lengthAdjust="spacingAndGlyphs" fill="#131722">Simple)</tspan> <tspan x="277.8" textLength="43.6" lengthAdjust="spacingAndGlyphs" fill="#ff6d00">2712.17</tspan> <tspan x="329.4" textLength="43.6" lengthAdjust="spacingAndGlyphs" fill="#2196f3">2690.26</tspan> <tspan x="381.3" textLength="44.1" lengthAdjust="spacingAndGlyphs" fill="#26c6da">2558.03</tspan></text>
<text y="494.3" font-size="13"><tspan x="18.2" textLength="16.6" lengthAdjust="spacingAndGlyphs" fill="#131722">RSI</tspan> <tspan x="39.8" textLength="20.5" lengthAdjust="spacingAndGlyphs" fill="#131722">(14)</tspan> <tspan x="69" textLength="30" lengthAdjust="spacingAndGlyphs" fill="#7e57c2">78.61</tspan></text>
<text y="606.2" font-size="13"><tspan x="17.8" textLength="20.8" lengthAdjust="spacingAndGlyphs" fill="#131722">FXS</tspan> <tspan x="41.1" textLength="21" lengthAdjust="spacingAndGlyphs" fill="#131722">Fed</tspan> <tspan x="65.2" textLength="58.5" lengthAdjust="spacingAndGlyphs" fill="#131722">Sentiment</tspan> <tspan x="127" textLength="31.1" lengthAdjust="spacingAndGlyphs" fill="#131722">Index</tspan> <tspan x="162" textLength="37.8" lengthAdjust="spacingAndGlyphs" fill="#131722">(close)</tspan> <tspan x="207.5" textLength="37" lengthAdjust="spacingAndGlyphs" fill="#131722">107.73</tspan> <tspan x="253" textLength="37.2" lengthAdjust="spacingAndGlyphs" fill="#9e9e9e">100.00</tspan></text>
</g>
<g id="logo" fill="#131722">
<path d="M10.1 755.2H17.8V765.6H14.2V758.8H10.1z"/>
<circle cx="21.6" cy="757.5" r="2.2"/>
<path d="M26.1 755.2H30.6L26.6 765.6H22.0z"/>
<text x="34" y="765.6" font-size="14" fill="#1e222d" textLength="74.6" lengthAdjust="spacingAndGlyphs">TradingView</text>
</g>
</svg>
</body></html>
